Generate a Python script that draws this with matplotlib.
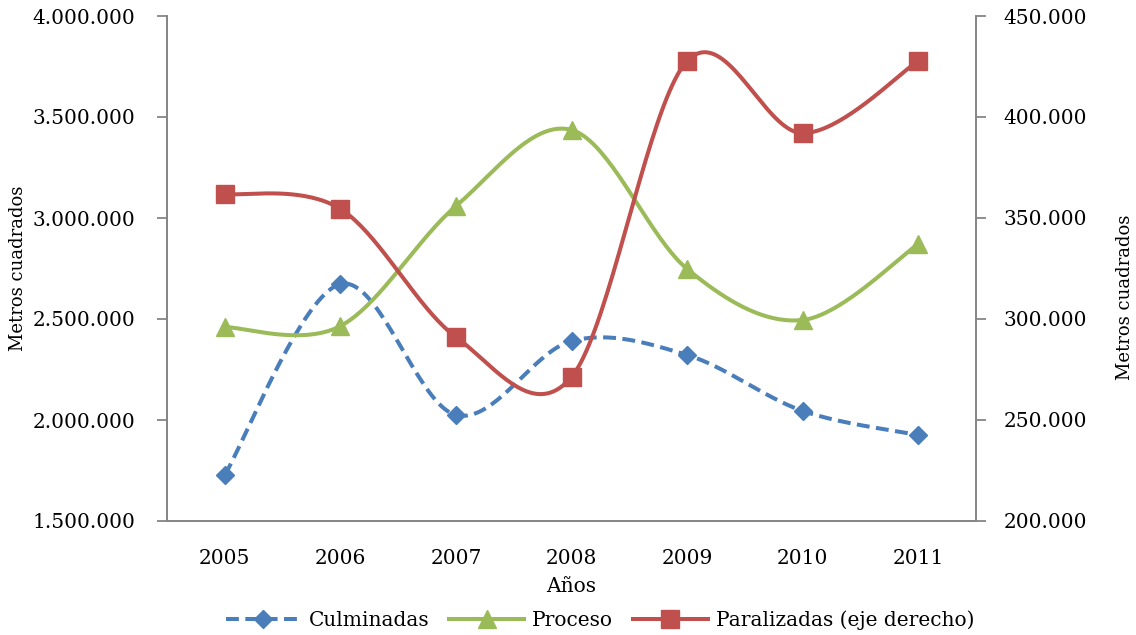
import numpy as np
import matplotlib
matplotlib.use("Agg")
import matplotlib.pyplot as plt
from matplotlib.lines import Line2D
from matplotlib.ticker import FuncFormatter

years = ["2005", "2006", "2007", "2008", "2009", "2010", "2011"]
culminadas = [1728000, 2673000, 2025000, 2391000, 2322000, 2045000, 1926000]
proceso = [2460000, 2465000, 3059000, 3436000, 2748000, 2495000, 2871000]
paralizadas = [361900, 354500, 291100, 271300, 427700, 392000, 427700]

BLUE = "#4A7EBB"
GREEN = "#9BBB59"
RED = "#C0504D"

plt.rcParams["font.family"] = ["DejaVu Serif"]


def smooth(xs, ys, n=40):
    # Excel-like smoothed line: cubic bezier with catmull-rom tangents
    p = np.column_stack([xs, ys]).astype(float)
    ext = np.vstack([p[0], p, p[-1]])
    out = []
    t = np.linspace(0, 1, n)[:, None]
    for i in range(len(p) - 1):
        p0, p3 = p[i], p[i + 1]
        c1 = p0 + (ext[i + 2] - ext[i]) / 6
        c2 = p3 - (ext[i + 3] - ext[i + 1]) / 6
        seg = ((1 - t) ** 3) * p0 + 3 * ((1 - t) ** 2) * t * c1 + 3 * (1 - t) * t ** 2 * c2 + t ** 3 * p3
        out.append(seg if i == 0 else seg[1:])
    out = np.vstack(out)
    return out[:, 0], out[:, 1]


def dots(v, pos):
    return f"{int(round(v)):,}".replace(",", ".")


fig = plt.figure(figsize=(11.36, 6.35), dpi=100)
ax = fig.add_axes([167 / 1136, 1 - 521 / 635, 809 / 1136, 505 / 635])
ax2 = ax.twinx()

x = np.arange(len(years))
lw = 2.9
dash = (3.2, 1.6)

sx, sy = smooth(x, culminadas)
ax.plot(sx, sy, color=BLUE, lw=lw, dashes=dash)
ax.plot(x, culminadas, ls="none", marker="D", ms=9.5, color=BLUE)

sx, sy = smooth(x, proceso)
ax.plot(sx, sy, color=GREEN, lw=lw, solid_capstyle="round")
ax.plot(x, proceso, ls="none", marker="^", ms=13, color=GREEN)

sx, sy = smooth(x, paralizadas)
ax2.plot(sx, sy, color=RED, lw=lw, solid_capstyle="round")
ax2.plot(x, paralizadas, ls="none", marker="s", ms=12.5, color=RED)

ax.set_xlim(-0.5, len(years) - 0.5)
ax.set_ylim(1500000, 4000000)
ax.set_yticks(np.arange(1500000, 4000001, 500000))
ax2.set_ylim(200000, 450000)
ax2.set_yticks(np.arange(200000, 450001, 50000))
ax.yaxis.set_major_formatter(FuncFormatter(dots))
ax2.yaxis.set_major_formatter(FuncFormatter(dots))

ax.set_xticks(x)
ax.set_xticklabels(years)

for a in (ax, ax2):
    a.spines["top"].set_visible(False)
    for s in ("left", "right", "bottom"):
        a.spines[s].set_color("#868686")
        a.spines[s].set_linewidth(1.3)

ax.tick_params(axis="y", length=7, width=1.3, color="#868686", labelsize=14.5, pad=16)
ax2.tick_params(axis="y", length=7, width=1.3, color="#868686", labelsize=14.5, pad=13)
ax.tick_params(axis="x", length=0, labelsize=14.5, pad=20)

fig.text(18 / 1136, 1 - 268 / 635, "Metros cuadrados", rotation=90, ha="center", va="center", fontsize=13)
fig.text(1125 / 1136, 1 - 297 / 635, "Metros cuadrados", rotation=90, ha="center", va="center", fontsize=13)
fig.text(571 / 1136, 1 - 587 / 635, "Años", ha="center", va="center", fontsize=14.5)

handles = [
    Line2D([], [], color=BLUE, lw=lw, dashes=dash, marker="D", ms=9.5),
    Line2D([], [], color=GREEN, lw=lw, marker="^", ms=13),
    Line2D([], [], color=RED, lw=lw, marker="s", ms=12.5),
]
fig.legend(handles, ["Culminadas", "Proceso", "Paralizadas (eje derecho)"],
           loc="center", bbox_to_anchor=(600 / 1136, 1 - 620 / 635), ncol=3,
           frameon=False, fontsize=14.5, handlelength=3.7, columnspacing=1.0,
           handletextpad=0.4)

fig.savefig("out.png", dpi=100)
